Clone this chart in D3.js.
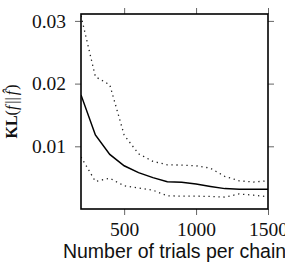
<!DOCTYPE html>
<html>
<head>
<meta charset="utf-8">
<script src="https://cdn.jsdelivr.net/npm/d3@7.9.0/dist/d3.min.js"></script>
<style>
  html, body { margin: 0; padding: 0; background: #fff; overflow: hidden; }
  svg { display: block; }
</style>
</head>
<body>
<div id="chart"></div>
<script>
// trials per chain
const trials = [200, 300, 400, 500, 600, 700, 800, 900, 1000, 1100, 1200, 1300, 1400, 1500];
// mean KL and the dotted upper / lower bands
const klMean  = [0.0182, 0.0118, 0.0087, 0.0069, 0.0058, 0.0050, 0.00435, 0.00425, 0.0040, 0.0036, 0.00325, 0.00315, 0.00315, 0.00315];
const klUpper = [0.0308, 0.0211, 0.0198, 0.0118, 0.0088, 0.0076, 0.00705, 0.0070, 0.0069, 0.0065, 0.0052, 0.0045, 0.0043, 0.0045];
const klLower = [0.0083, 0.0044, 0.0049, 0.0037, 0.00335, 0.0030, 0.0021, 0.00205, 0.00205, 0.0020, 0.0019, 0.0024, 0.0022, 0.00195];

const xTicks = [500, 1000, 1500];
const yTicks = [0.01, 0.02, 0.03];

const width = 285, height = 264;
const margin = { top: 14, right: 17, bottom: 55, left: 81 };
const innerWidth = width - margin.left - margin.right;
const innerHeight = height - margin.top - margin.bottom;

const svg = d3.select('#chart').append('svg')
    .attr('width', width)
    .attr('height', height);

const x = d3.scaleLinear().domain([200, 1500]).range([0, innerWidth]);
const y = d3.scaleLinear().domain([0, 0.0311]).range([innerHeight, 0]);

const g = svg.append('g')
    .attr('transform', `translate(${margin.left},${margin.top})`);

// clip for the data lines
svg.append('defs').append('clipPath').attr('id', 'plot-clip')
    .append('rect').attr('width', innerWidth).attr('height', innerHeight);

const tickStyle = sel => {
    sel.select('.domain').remove();
    sel.selectAll('.tick line').attr('stroke', '#666').attr('stroke-width', 1);
    sel.selectAll('.tick text')
        .attr('fill', '#111')
        .style('font-family', '"Liberation Serif", "DejaVu Serif", serif')
        .style('font-size', '19.5px');
};

g.append('g')
    .attr('transform', `translate(0,${innerHeight})`)
    .call(d3.axisBottom(x).tickValues(xTicks).tickSize(6).tickPadding(7).tickFormat(d3.format('d')))
    .call(tickStyle);

g.append('g')
    .call(d3.axisTop(x).tickValues(xTicks).tickSize(6).tickFormat(''))
    .call(tickStyle);

g.append('g')
    .call(d3.axisLeft(y).tickValues(yTicks).tickSize(6).tickPadding(9).tickFormat(d3.format('.2f')))
    .call(tickStyle);

g.append('g')
    .attr('transform', `translate(${innerWidth},0)`)
    .call(d3.axisRight(y).tickValues(yTicks).tickSize(6).tickFormat(''))
    .call(tickStyle);

const line = vals => d3.line()
    .x((d, i) => x(trials[i]))
    .y(d => y(d))(vals);

const lines = g.append('g').attr('clip-path', 'url(#plot-clip)');

lines.append('path')
    .attr('d', line(klUpper))
    .attr('fill', 'none')
    .attr('stroke', '#222')
    .attr('stroke-width', 1.3)
    .attr('stroke-dasharray', '1.3,3.7');

lines.append('path')
    .attr('d', line(klLower))
    .attr('fill', 'none')
    .attr('stroke', '#222')
    .attr('stroke-width', 1.3)
    .attr('stroke-dasharray', '1.3,3.7');

lines.append('path')
    .attr('d', line(klMean))
    .attr('fill', 'none')
    .attr('stroke', '#000')
    .attr('stroke-width', 1.5);

// frame
g.append('rect')
    .attr('width', innerWidth)
    .attr('height', innerHeight)
    .attr('fill', 'none')
    .attr('stroke', '#000')
    .attr('stroke-width', 1.6);

// axis labels
g.append('text')
    .attr('x', innerWidth / 2)
    .attr('y', innerHeight + 49)
    .attr('text-anchor', 'middle')
    .style('font-family', '"Liberation Sans", Arial, sans-serif')
    .style('font-size', '19.5px')
    .attr('fill', '#111')
    .text('Number of trials per chain');

const yLabel = svg.append('text')
    .attr('transform', `translate(17,${margin.top + innerHeight / 2}) rotate(-90)`)
    .attr('text-anchor', 'middle')
    .style('font-family', '"Liberation Serif", "DejaVu Serif", serif')
    .style('font-size', '16px')
    .attr('fill', '#111');
yLabel.append('tspan').style('font-weight', 'bold').text('KL');
yLabel.append('tspan').text('(');
yLabel.append('tspan').style('font-style', 'italic').text('f');
yLabel.append('tspan').attr('dx', 2).text('||');
yLabel.append('tspan').attr('dx', 2).style('font-style', 'italic').text('f\u0302');
yLabel.append('tspan').attr('dx', 1).text(')');
</script>
</body>
</html>
